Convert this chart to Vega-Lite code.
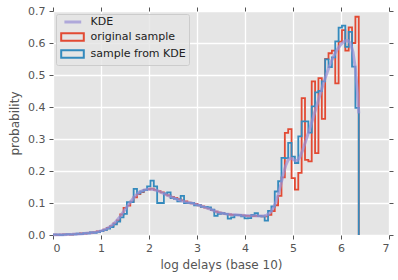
{
  "$schema": "https://vega.github.io/schema/vega-lite/v6.json",
  "width": 336,
  "height": 224,
  "autosize": {"type": "none"},
  "padding": {"left": 53, "top": 11, "right": 9, "bottom": 45},
  "background": "#FFFFFF",
  "config": {
    "view": {"fill": "#E5E5E5", "stroke": null},
    "font": "DejaVu Sans",
    "axis": {
      "domain": false,
      "tickColor": "#555555",
      "tickSize": 4,
      "tickWidth": 1,
      "labelColor": "#555555",
      "labelFontSize": 11,
      "labelFont": "DejaVu Sans",
      "titleFont": "DejaVu Sans",
      "titleFontSize": 12,
      "titleFontWeight": "normal",
      "titleColor": "#555555",
      "gridColor": "#FFFFFF",
      "gridWidth": 1.3,
      "gridOpacity": 1
    }
  },
  "datasets": {
    "hist": [
      {"x": 0.00, "original sample": 0.001, "sample from KDE": 0.001},
      {"x": 0.07, "original sample": 0.000, "sample from KDE": 0.001},
      {"x": 0.14, "original sample": 0.001, "sample from KDE": 0.000},
      {"x": 0.21, "original sample": 0.002, "sample from KDE": 0.001},
      {"x": 0.28, "original sample": 0.002, "sample from KDE": 0.003},
      {"x": 0.35, "original sample": 0.001, "sample from KDE": 0.002},
      {"x": 0.42, "original sample": 0.003, "sample from KDE": 0.002},
      {"x": 0.49, "original sample": 0.003, "sample from KDE": 0.004},
      {"x": 0.56, "original sample": 0.005, "sample from KDE": 0.003},
      {"x": 0.63, "original sample": 0.004, "sample from KDE": 0.006},
      {"x": 0.70, "original sample": 0.006, "sample from KDE": 0.005},
      {"x": 0.77, "original sample": 0.007, "sample from KDE": 0.008},
      {"x": 0.84, "original sample": 0.009, "sample from KDE": 0.007},
      {"x": 0.91, "original sample": 0.011, "sample from KDE": 0.009},
      {"x": 0.98, "original sample": 0.013, "sample from KDE": 0.012},
      {"x": 1.05, "original sample": 0.017, "sample from KDE": 0.015},
      {"x": 1.12, "original sample": 0.022, "sample from KDE": 0.020},
      {"x": 1.19, "original sample": 0.028, "sample from KDE": 0.025},
      {"x": 1.26, "original sample": 0.036, "sample from KDE": 0.033},
      {"x": 1.33, "original sample": 0.046, "sample from KDE": 0.042},
      {"x": 1.40, "original sample": 0.064, "sample from KDE": 0.055},
      {"x": 1.47, "original sample": 0.085, "sample from KDE": 0.066},
      {"x": 1.54, "original sample": 0.092, "sample from KDE": 0.103},
      {"x": 1.61, "original sample": 0.104, "sample from KDE": 0.103},
      {"x": 1.68, "original sample": 0.118, "sample from KDE": 0.144},
      {"x": 1.75, "original sample": 0.128, "sample from KDE": 0.130},
      {"x": 1.82, "original sample": 0.134, "sample from KDE": 0.136},
      {"x": 1.89, "original sample": 0.141, "sample from KDE": 0.140},
      {"x": 1.96, "original sample": 0.143, "sample from KDE": 0.152},
      {"x": 2.03, "original sample": 0.145, "sample from KDE": 0.170},
      {"x": 2.10, "original sample": 0.141, "sample from KDE": 0.152},
      {"x": 2.17, "original sample": 0.137, "sample from KDE": 0.100},
      {"x": 2.24, "original sample": 0.133, "sample from KDE": 0.100},
      {"x": 2.31, "original sample": 0.127, "sample from KDE": 0.130},
      {"x": 2.38, "original sample": 0.124, "sample from KDE": 0.133},
      {"x": 2.45, "original sample": 0.119, "sample from KDE": 0.115},
      {"x": 2.52, "original sample": 0.116, "sample from KDE": 0.113},
      {"x": 2.59, "original sample": 0.112, "sample from KDE": 0.105},
      {"x": 2.66, "original sample": 0.108, "sample from KDE": 0.122},
      {"x": 2.73, "original sample": 0.105, "sample from KDE": 0.100},
      {"x": 2.80, "original sample": 0.101, "sample from KDE": 0.100},
      {"x": 2.87, "original sample": 0.099, "sample from KDE": 0.100},
      {"x": 2.94, "original sample": 0.097, "sample from KDE": 0.093},
      {"x": 3.01, "original sample": 0.093, "sample from KDE": 0.093},
      {"x": 3.08, "original sample": 0.089, "sample from KDE": 0.088},
      {"x": 3.15, "original sample": 0.086, "sample from KDE": 0.088},
      {"x": 3.22, "original sample": 0.083, "sample from KDE": 0.086},
      {"x": 3.29, "original sample": 0.078, "sample from KDE": 0.079},
      {"x": 3.36, "original sample": 0.073, "sample from KDE": 0.060},
      {"x": 3.43, "original sample": 0.070, "sample from KDE": 0.066},
      {"x": 3.50, "original sample": 0.068, "sample from KDE": 0.068},
      {"x": 3.57, "original sample": 0.066, "sample from KDE": 0.066},
      {"x": 3.64, "original sample": 0.064, "sample from KDE": 0.051},
      {"x": 3.71, "original sample": 0.063, "sample from KDE": 0.055},
      {"x": 3.78, "original sample": 0.062, "sample from KDE": 0.062},
      {"x": 3.85, "original sample": 0.063, "sample from KDE": 0.062},
      {"x": 3.92, "original sample": 0.061, "sample from KDE": 0.058},
      {"x": 3.99, "original sample": 0.060, "sample from KDE": 0.052},
      {"x": 4.06, "original sample": 0.060, "sample from KDE": 0.053},
      {"x": 4.13, "original sample": 0.059, "sample from KDE": 0.063},
      {"x": 4.20, "original sample": 0.060, "sample from KDE": 0.068},
      {"x": 4.27, "original sample": 0.059, "sample from KDE": 0.060},
      {"x": 4.34, "original sample": 0.058, "sample from KDE": 0.058},
      {"x": 4.41, "original sample": 0.058, "sample from KDE": 0.045},
      {"x": 4.48, "original sample": 0.063, "sample from KDE": 0.075},
      {"x": 4.55, "original sample": 0.075, "sample from KDE": 0.089},
      {"x": 4.62, "original sample": 0.093, "sample from KDE": 0.136},
      {"x": 4.69, "original sample": 0.122, "sample from KDE": 0.168},
      {"x": 4.76, "original sample": 0.180, "sample from KDE": 0.241},
      {"x": 4.83, "original sample": 0.319, "sample from KDE": 0.240},
      {"x": 4.90, "original sample": 0.331, "sample from KDE": 0.288},
      {"x": 4.97, "original sample": 0.178, "sample from KDE": 0.245},
      {"x": 5.04, "original sample": 0.142, "sample from KDE": 0.225},
      {"x": 5.11, "original sample": 0.194, "sample from KDE": 0.308},
      {"x": 5.18, "original sample": 0.428, "sample from KDE": 0.355},
      {"x": 5.25, "original sample": 0.235, "sample from KDE": 0.355},
      {"x": 5.32, "original sample": 0.230, "sample from KDE": 0.320},
      {"x": 5.39, "original sample": 0.480, "sample from KDE": 0.402},
      {"x": 5.46, "original sample": 0.256, "sample from KDE": 0.446},
      {"x": 5.53, "original sample": 0.490, "sample from KDE": 0.450},
      {"x": 5.60, "original sample": 0.363, "sample from KDE": 0.480},
      {"x": 5.67, "original sample": 0.550, "sample from KDE": 0.549},
      {"x": 5.74, "original sample": 0.568, "sample from KDE": 0.525},
      {"x": 5.81, "original sample": 0.576, "sample from KDE": 0.555},
      {"x": 5.88, "original sample": 0.474, "sample from KDE": 0.605},
      {"x": 5.95, "original sample": 0.604, "sample from KDE": 0.648},
      {"x": 6.02, "original sample": 0.640, "sample from KDE": 0.654},
      {"x": 6.09, "original sample": 0.576, "sample from KDE": 0.588},
      {"x": 6.16, "original sample": 0.649, "sample from KDE": 0.635},
      {"x": 6.23, "original sample": 0.600, "sample from KDE": 0.526},
      {"x": 6.30, "original sample": 0.682, "sample from KDE": 0.397},
      {"x": 6.37, "original sample": 0.682, "sample from KDE": 0.397},
      {"x": 6.37, "original sample": 0, "sample from KDE": 0}
    ],
    "kde": [
      {"x": 0.0, "density": 0.001},
      {"x": 0.2, "density": 0.001},
      {"x": 0.4, "density": 0.002},
      {"x": 0.6, "density": 0.004},
      {"x": 0.8, "density": 0.007},
      {"x": 0.9, "density": 0.009},
      {"x": 1.0, "density": 0.013},
      {"x": 1.1, "density": 0.018},
      {"x": 1.2, "density": 0.027},
      {"x": 1.3, "density": 0.040},
      {"x": 1.4, "density": 0.058},
      {"x": 1.5, "density": 0.079},
      {"x": 1.6, "density": 0.100},
      {"x": 1.7, "density": 0.120},
      {"x": 1.8, "density": 0.134},
      {"x": 1.9, "density": 0.141},
      {"x": 2.0, "density": 0.144},
      {"x": 2.1, "density": 0.142},
      {"x": 2.2, "density": 0.137},
      {"x": 2.3, "density": 0.130},
      {"x": 2.4, "density": 0.123},
      {"x": 2.5, "density": 0.117},
      {"x": 2.6, "density": 0.111},
      {"x": 2.7, "density": 0.106},
      {"x": 2.8, "density": 0.102},
      {"x": 2.9, "density": 0.099},
      {"x": 3.0, "density": 0.095},
      {"x": 3.1, "density": 0.090},
      {"x": 3.2, "density": 0.085},
      {"x": 3.3, "density": 0.079},
      {"x": 3.4, "density": 0.073},
      {"x": 3.5, "density": 0.069},
      {"x": 3.6, "density": 0.066},
      {"x": 3.7, "density": 0.064},
      {"x": 3.8, "density": 0.063},
      {"x": 3.9, "density": 0.062},
      {"x": 4.0, "density": 0.061},
      {"x": 4.1, "density": 0.060},
      {"x": 4.2, "density": 0.060},
      {"x": 4.3, "density": 0.059},
      {"x": 4.4, "density": 0.060},
      {"x": 4.45, "density": 0.062},
      {"x": 4.5, "density": 0.066},
      {"x": 4.55, "density": 0.074},
      {"x": 4.6, "density": 0.087},
      {"x": 4.65, "density": 0.106},
      {"x": 4.7, "density": 0.131},
      {"x": 4.75, "density": 0.160},
      {"x": 4.8, "density": 0.192},
      {"x": 4.85, "density": 0.218},
      {"x": 4.9, "density": 0.235},
      {"x": 4.95, "density": 0.240},
      {"x": 5.0, "density": 0.237},
      {"x": 5.05, "density": 0.232},
      {"x": 5.1, "density": 0.234},
      {"x": 5.15, "density": 0.245},
      {"x": 5.2, "density": 0.265},
      {"x": 5.25, "density": 0.287},
      {"x": 5.3, "density": 0.310},
      {"x": 5.35, "density": 0.333},
      {"x": 5.4, "density": 0.357},
      {"x": 5.45, "density": 0.382},
      {"x": 5.5, "density": 0.407},
      {"x": 5.55, "density": 0.432},
      {"x": 5.6, "density": 0.457},
      {"x": 5.65, "density": 0.481},
      {"x": 5.7, "density": 0.503},
      {"x": 5.75, "density": 0.524},
      {"x": 5.8, "density": 0.543},
      {"x": 5.85, "density": 0.560},
      {"x": 5.9, "density": 0.574},
      {"x": 5.95, "density": 0.586},
      {"x": 6.0, "density": 0.596},
      {"x": 6.05, "density": 0.603},
      {"x": 6.1, "density": 0.607},
      {"x": 6.15, "density": 0.607},
      {"x": 6.2, "density": 0.598},
      {"x": 6.25, "density": 0.572},
      {"x": 6.3, "density": 0.520},
      {"x": 6.34, "density": 0.450},
      {"x": 6.37, "density": 0.380}
    ]
  },
  "layer": [
    {
      "data": {"name": "hist"},
      "transform": [{"fold": ["original sample", "sample from KDE"], "as": ["series", "value"]}],
      "mark": {"type": "line", "interpolate": "step-after", "strokeWidth": 1.8, "strokeJoin": "miter"},
      "encoding": {
        "x": {
          "field": "x", "type": "quantitative",
          "scale": {"domain": [0, 7], "nice": false, "zero": false},
          "axis": {"orient": "top", "labels": false, "title": null, "grid": false, "values": [0, 1, 2, 3, 4, 5, 6, 7]}
        },
        "y": {
          "field": "value", "type": "quantitative",
          "scale": {"domain": [0, 0.7], "nice": false},
          "axis": {"orient": "right", "labels": false, "title": null, "grid": false, "values": [0, 0.1, 0.2, 0.3, 0.4, 0.5, 0.6, 0.7]}
        },
        "color": {
          "field": "series", "type": "nominal",
          "scale": {"domain": ["KDE", "original sample", "sample from KDE"], "range": ["#988ED5", "#E24A33", "#348ABD"]},
          "legend": {
            "title": null,
            "orient": "top-left",
            "offset": 3,
            "padding": 2.5,
            "fillColor": "rgba(229,229,229,0.8)",
            "strokeColor": "#CCCCCC",
            "cornerRadius": 2,
            "labelFont": "DejaVu Sans",
            "labelFontSize": 11,
            "labelColor": "#222222",
            "symbolSize": 256,
            "labelOffset": 21,
            "rowPadding": 0,
            "symbolStrokeWidth": 2,
            "encode": {
              "symbols": {
                "update": {
                  "shape": {"signal": "datum.value === 'KDE' ? 'M0.05,0H2.15' : 'M-0.35,-0.456H2.475V0.456H-0.35Z'"},
                  "strokeWidth": {"signal": "datum.value === 'KDE' ? 3 : 2"},
                  "strokeOpacity": {"signal": "datum.value === 'KDE' ? 0.7 : 1"},
                  "fill": {"value": "transparent"}
                }
              }
            }
          }
        },
        "order": {"value": null}
      }
    },
    {
      "data": {"name": "kde"},
      "mark": {"type": "line", "strokeWidth": 3, "strokeOpacity": 0.7},
      "encoding": {
        "x": {
          "field": "x", "type": "quantitative",
          "axis": {"orient": "bottom", "title": "log delays (base 10)", "values": [0, 1, 2, 3, 4, 5, 6, 7], "grid": true, "labelPadding": 3, "titlePadding": 6}
        },
        "y": {
          "field": "density", "type": "quantitative",
          "axis": {"orient": "left", "title": "probability", "format": ".1f", "values": [0, 0.1, 0.2, 0.3, 0.4, 0.5, 0.6, 0.7], "grid": true, "labelPadding": 4, "titlePadding": 6}
        },
        "color": {"datum": "KDE"}
      }
    }
  ],
  "resolve": {"axis": {"x": "independent", "y": "independent"}}
}
